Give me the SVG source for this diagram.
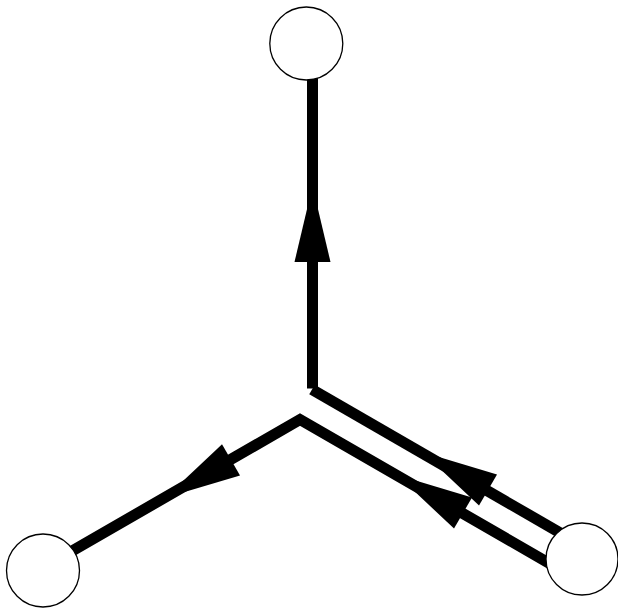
<svg xmlns="http://www.w3.org/2000/svg" width="618" height="608" viewBox="0 0 618 608">
<style>
.edge{fill:none;stroke:#000;stroke-width:11;stroke-linecap:butt;stroke-linejoin:miter}
.node{fill:#fff;stroke:#000;stroke-width:1.3}
</style>
<defs>
<path id="ah" d="M0,0 L-76,-18 L-76,18 Z" fill="#000"/>
</defs>
<rect width="618" height="608" fill="#fff"/>
<g id="connectors">
<polyline class="edge" points="312.5,60 312.5,388.5"/>
<polyline class="edge" points="312,389.5 582,545.5"/>
<polyline class="edge" points="582,582.2 300,419.5 43,567.8"/>
<use href="#ah" transform="translate(312.5,186) rotate(-90)"/>
<use href="#ah" transform="translate(422.2,452) rotate(210)"/>
<use href="#ah" transform="translate(397.2,475) rotate(210)"/>
<use href="#ah" transform="translate(165.2,497.8) rotate(150)"/>
</g>
<g id="node-top"><circle class="node" cx="306.3" cy="43.5" r="36.5"/></g>
<g id="node-right"><circle class="node" cx="582" cy="559" r="36"/></g>
<g id="node-left"><circle class="node" cx="43" cy="570.5" r="36.5"/></g>
</svg>
